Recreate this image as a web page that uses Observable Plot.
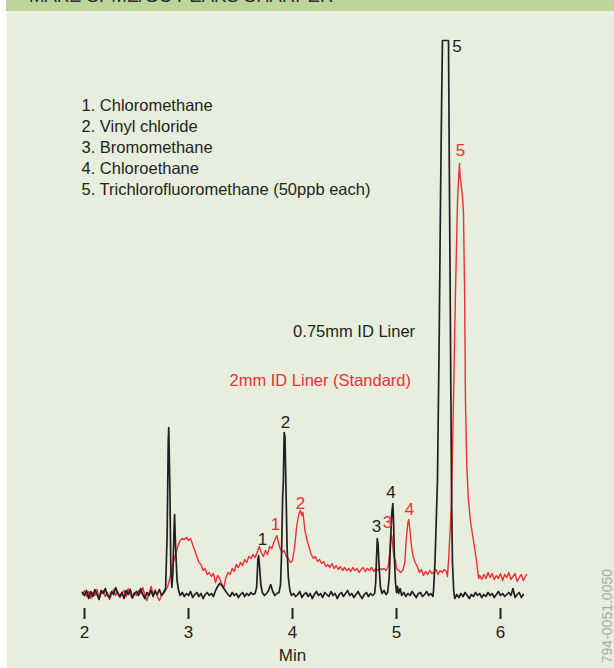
<!DOCTYPE html>
<html>
<head>
<meta charset="utf-8">
<script src="https://cdn.jsdelivr.net/npm/d3@7"></script>
<script src="https://cdn.jsdelivr.net/npm/@observablehq/plot@0.6"></script>
<style>
  body { margin: 0; background: #ffffff; }
  #wrap { position: relative; width: 614px; height: 668px; overflow: hidden; font-family: "Liberation Sans", Arial, sans-serif; }
  #panel { position: absolute; left: 7px; top: 0; width: 607px; height: 668px; background: #e7eedd; }
  #header { position: absolute; left: 6px; top: 0; width: 608px; height: 11px; background: #bdd59b; overflow: hidden; }
  #header span { position: absolute; left: 23px; top: -12.7px; font-size: 18.5px; line-height: 18.5px; color: #2a2a2a; white-space: nowrap; }
  #chart { position: absolute; left: 0; top: 0; }
  #code { position: absolute; left: 0; top: 0; }
</style>
</head>
<body>
<div id="wrap">
  <div id="panel"></div>
  <div id="header"><span>MAKE SPME/GC PEAKS SHARPER</span></div>
  <div id="chart"></div>
  <svg id="code" width="614" height="668"><text transform="translate(612,569) rotate(-90)" text-anchor="end" font-family="Liberation Sans, Arial, sans-serif" font-size="14" fill="#a9aaa5">794-0051.0050</text></svg>
</div>
<script>
// x-axis ticks (minutes)
const xTicks = [2, 3, 4, 5, 6];

// Compound list
const compounds = ["Chloromethane", "Vinyl chloride", "Bromomethane", "Chloroethane", "Trichlorofluoromethane (50ppb each)"];

// Trace labels
const linerNames = ["0.75mm ID Liner", "2mm ID Liner (Standard)"];
const linerTime = [4.006, 3.394];
const linerSignal = [260.5, 212];

// Peak numbers and where they sit (time, signal)
const peakNumbers = ["1", "2", "3", "4", "5"];
const blackLabelTime = [3.712, 3.933, 4.808, 4.947, 5.582];
const blackLabelSignal = [53, 169.5, 65.5, 99.5, 545.5];
const redLabelTime = [3.837, 4.077, 4.913, 5.125, 5.615];
const redLabelSignal = [67.5, 89, 69.5, 83, 441.5];

// 0.75mm ID liner trace: [time (min), signal]
const blackTrace = [
  [1.98,0],[2.00,-3],[2.02,2],[2.04,-6],[2.06,1],[2.08,-4],[2.10,3],[2.12,-2],[2.14,-7],[2.16,2],
  [2.18,-1],[2.20,4],[2.22,-3],[2.24,-5],[2.26,1],[2.28,-2],[2.30,5],[2.32,-1],[2.34,-4],[2.36,0],
  [2.38,-6],[2.40,2],[2.42,-2],[2.44,3],[2.46,-5],[2.48,-1],[2.50,1],[2.52,-3],[2.54,4],[2.56,-2],
  [2.58,-6],[2.60,0],[2.62,-3],[2.64,2],[2.66,-4],[2.68,1],[2.70,-2],[2.72,3],[2.74,-3],[2.76,0],
  [2.78,4],[2.795,60],[2.805,150],[2.810,165],[2.82,110],[2.83,25],[2.84,5],[2.85,20],[2.86,60],[2.866,78],
  [2.876,45],[2.89,12],[2.905,2],[2.92,-3],[2.94,0],[2.96,-4],[2.98,-1],[3.00,-3],[3.02,1],[3.04,-5],
  [3.06,-2],[3.08,0],[3.10,-4],[3.12,-1],[3.14,-6],[3.16,-2],[3.18,0],[3.20,-3],[3.22,-1],[3.24,-4],
  [3.26,2],[3.28,6],[3.30,9],[3.32,7],[3.34,4],[3.36,1],[3.38,-2],[3.40,-4],[3.42,0],[3.44,-3],
  [3.46,-1],[3.48,-5],[3.50,-2],[3.52,0],[3.54,-4],[3.56,-1],[3.58,-3],[3.60,0],[3.62,-2],[3.64,-1],
  [3.655,5],[3.662,20],[3.668,34],[3.674,37],[3.684,25],[3.695,8],[3.71,0],[3.73,-3],[3.75,-1],[3.77,2],
  [3.79,8],[3.81,1],[3.83,-3],[3.85,-1],[3.87,0],[3.885,8],[3.895,40],[3.905,95],[3.912,110],[3.92,160],
  [3.928,155],[3.938,100],[3.948,45],[3.96,15],[3.975,2],[3.99,-3],[4.01,-1],[4.03,-4],[4.05,-2],[4.07,1],
  [4.09,-5],[4.11,-2],[4.13,0],[4.15,-4],[4.17,-1],[4.19,-6],[4.21,-2],[4.23,1],[4.25,-3],[4.27,-1],
  [4.29,-5],[4.31,0],[4.33,-2],[4.35,-4],[4.37,1],[4.39,-3],[4.41,-1],[4.43,-6],[4.45,-2],[4.47,0],
  [4.49,-4],[4.51,-1],[4.53,2],[4.55,-3],[4.57,-1],[4.59,-5],[4.61,-2],[4.63,1],[4.65,-3],[4.67,-6],
  [4.69,-2],[4.71,0],[4.73,-4],[4.75,-1],[4.77,-3],[4.79,-1],[4.80,10],[4.808,35],[4.815,54],[4.823,48],
  [4.833,25],[4.845,6],[4.86,-1],[4.88,2],[4.90,-2],[4.915,0],[4.93,15],[4.942,50],[4.955,80],[4.965,89],
  [4.972,70],[4.98,35],[4.99,10],[5.00,0],[5.01,6],[5.02,-1],[5.035,4],[5.05,-3],[5.07,0],[5.09,-4],
  [5.11,-1],[5.13,-3],[5.15,1],[5.17,-2],[5.19,-5],[5.21,-1],[5.23,0],[5.25,-4],[5.27,-2],[5.29,1],
  [5.31,-3],[5.33,-1],[5.35,-4],[5.356,2],[5.37,30],[5.394,112],[5.41,250],[5.423,392],[5.435,500],[5.442,552],
  [5.50,552],[5.51,392],[5.52,240],[5.53,92],[5.538,30],[5.55,2],[5.56,-6],[5.58,-2],[5.60,-5],[5.62,-1],
  [5.64,-4],[5.66,0],[5.68,-3],[5.70,-6],[5.72,-2],[5.74,-4],[5.76,0],[5.78,-3],[5.80,-1],[5.82,-5],
  [5.84,-2],[5.86,-4],[5.88,0],[5.90,-3],[5.92,-1],[5.94,-5],[5.96,-2],[5.98,1],[6.00,-3],[6.02,-1],
  [6.04,-4],[6.06,-2],[6.08,0],[6.10,-3],[6.12,4],[6.14,-5],[6.16,-2],[6.18,0],[6.20,-5],[6.22,-2]
];

// 2mm ID liner (standard) trace: [time (min), signal]
const redTrace = [
  [1.98,-2],[2.00,2],[2.02,-4],[2.04,1],[2.06,-6],[2.08,0],[2.10,-3],[2.12,3],[2.14,-5],[2.16,-1],
  [2.18,2],[2.20,-4],[2.22,0],[2.24,-7],[2.26,-2],[2.28,3],[2.30,-3],[2.32,1],[2.34,-5],[2.36,-1],
  [2.38,2],[2.40,-4],[2.42,4],[2.44,-2],[2.46,-6],[2.48,0],[2.50,-3],[2.52,2],[2.54,-1],[2.56,5],
  [2.58,-3],[2.60,-8],[2.62,-1],[2.64,6],[2.66,-2],[2.68,3],[2.70,-4],[2.72,-8],[2.74,-3],[2.76,-1],
  [2.78,2],[2.80,6],[2.82,14],[2.84,24],[2.86,32],[2.88,40],[2.90,47],[2.92,52],[2.94,54],[2.96,53],
  [2.98,55],[3.00,52],[3.02,54],[3.04,48],[3.06,42],[3.08,36],[3.10,30],[3.12,28],[3.14,22],[3.16,24],
  [3.18,18],[3.20,20],[3.22,16],[3.24,19],[3.26,10],[3.28,17],[3.30,14],[3.32,8],[3.34,5],[3.36,15],
  [3.38,20],[3.40,18],[3.42,24],[3.44,21],[3.46,28],[3.48,25],[3.50,30],[3.52,27],[3.54,33],[3.56,30],
  [3.58,36],[3.60,34],[3.62,38],[3.64,35],[3.66,40],[3.68,46],[3.70,40],[3.72,36],[3.74,42],[3.76,38],
  [3.78,46],[3.80,44],[3.82,50],[3.84,55],[3.85,57],[3.86,52],[3.88,44],[3.90,40],[3.92,42],[3.94,36],
  [3.96,34],[3.98,30],[4.00,32],[4.02,45],[4.04,66],[4.06,78],[4.075,82],[4.09,77],[4.10,80],[4.12,62],
  [4.14,52],[4.16,45],[4.18,38],[4.20,34],[4.22,36],[4.24,31],[4.26,33],[4.28,29],[4.30,31],[4.32,26],
  [4.34,28],[4.36,25],[4.38,29],[4.40,24],[4.42,27],[4.44,23],[4.46,26],[4.48,22],[4.50,25],[4.52,22],
  [4.54,24],[4.56,21],[4.58,25],[4.60,22],[4.62,24],[4.64,20],[4.66,23],[4.68,25],[4.70,21],[4.72,24],
  [4.74,22],[4.76,25],[4.78,21],[4.80,24],[4.82,22],[4.84,24],[4.86,23],[4.88,24],[4.90,22],[4.92,26],
  [4.935,40],[4.945,55],[4.955,57],[4.965,45],[4.975,36],[4.99,32],[5.00,24],[5.02,22],[5.04,20],[5.06,22],
  [5.08,30],[5.095,55],[5.11,70],[5.118,73],[5.13,62],[5.14,50],[5.15,42],[5.16,36],[5.18,30],[5.20,26],
  [5.22,20],[5.24,23],[5.26,17],[5.28,21],[5.30,18],[5.32,22],[5.34,19],[5.36,20],[5.38,23],[5.40,18],
  [5.42,22],[5.44,20],[5.46,23],[5.48,21],[5.49,16],[5.50,32],[5.515,60],[5.529,92],[5.548,192],[5.567,300],
  [5.587,392],[5.60,420],[5.606,429],[5.612,415],[5.62,410],[5.635,395],[5.644,380],[5.655,300],[5.663,192],[5.675,130],
  [5.69,95],[5.71,72],[5.725,62],[5.74,52],[5.755,42],[5.769,32],[5.78,22],[5.79,14],[5.80,17],[5.82,13],
  [5.84,18],[5.86,14],[5.88,20],[5.90,15],[5.92,19],[5.94,13],[5.96,17],[5.98,14],[6.00,19],[6.02,12],
  [6.04,18],[6.06,15],[6.08,20],[6.10,13],[6.12,16],[6.14,19],[6.16,11],[6.18,15],[6.20,18],[6.22,12],
  [6.25,18]
];

const BLACK = "#231f20";
const RED = "#ec2e36";
const FONT = "Liberation Sans, Arial, sans-serif";

const chart = Plot.plot({
  width: 614,
  height: 668,
  marginLeft: 84,
  marginRight: 114,
  marginTop: 40,
  marginBottom: 60,
  style: { background: "transparent", fontFamily: FONT, fontSize: "16.5px", color: BLACK },
  x: { domain: [2, 6] },
  y: { domain: [-16, 552], axis: null },
  marks: [
    Plot.axisX({
      ticks: xTicks, tickFormat: d => String(d), tickSize: 11, tickPadding: 6, strokeWidth: 2, fontSize: 17,
      label: "Min", labelAnchor: "center", labelArrow: "none", labelOffset: 52, fill: BLACK
    }),
    Plot.line(redTrace, { x: d => d[0], y: d => d[1], stroke: RED, strokeWidth: 1.4 }),
    Plot.line(blackTrace, { x: d => d[0], y: d => d[1], stroke: BLACK, strokeWidth: 1.7 }),
    Plot.text(peakNumbers, { x: (d, i) => blackLabelTime[i], y: (d, i) => blackLabelSignal[i], text: d => d, fill: BLACK, fontSize: 17 }),
    Plot.text(peakNumbers, { x: (d, i) => redLabelTime[i], y: (d, i) => redLabelSignal[i], text: d => d, fill: RED, fontSize: 17 }),
    Plot.text([linerNames[0]], { x: linerTime[0], y: linerSignal[0], text: d => d, textAnchor: "start", fill: BLACK, fontSize: 16.5 }),
    Plot.text([linerNames[1]], { x: linerTime[1], y: linerSignal[1], text: d => d, textAnchor: "start", fill: RED, fontSize: 16.5 }),
    Plot.text([compounds.map((c, i) => `${i + 1}. ${c}`).join("\n")], {
      frameAnchor: "top-left", dx: -3, dy: 55, lineAnchor: "top", textAnchor: "start",
      lineHeight: 1.285, fontSize: 16.5, fill: BLACK, text: d => d
    })
  ]
});
document.getElementById("chart").appendChild(chart);
</script>
</body>
</html>
